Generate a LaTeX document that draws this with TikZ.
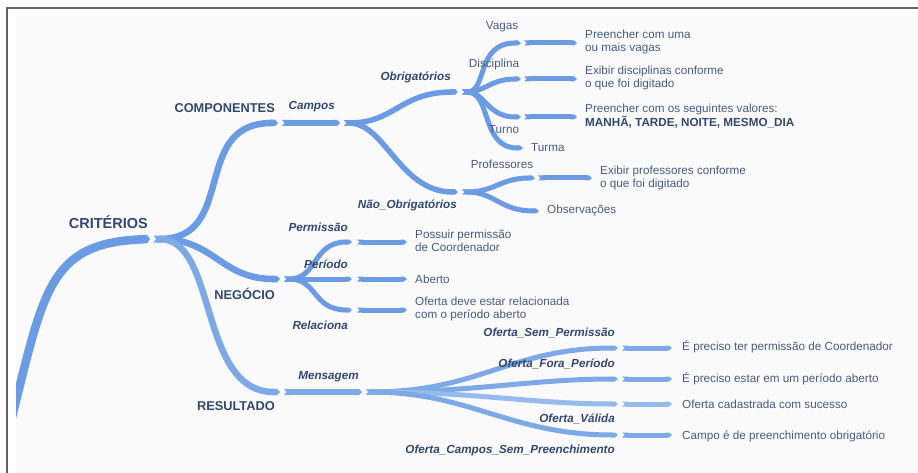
\documentclass[tikz,border=0pt]{standalone}
\usepackage{fontspec}
\setmainfont{Liberation Sans}
\usetikzlibrary{arrows.meta}
\definecolor{branch}{RGB}{107,156,227}
\definecolor{branchlt}{RGB}{125,169,231}
\definecolor{branchxl}{RGB}{152,187,237}
\definecolor{headc}{RGB}{50,72,110}
\definecolor{leafc}{RGB}{72,92,128}
\definecolor{framec}{RGB}{100,100,100}
\definecolor{paper}{RGB}{250,250,250}
\tikzset{
  seg/.style={draw=branch, line width=#1, line cap=butt,
    {Triangle Cap[reversed,length=2.5pt]}-{Triangle Cap[length=3pt]}},
  seg/.default=5pt,
  head/.style={font=\fontsize{12.8}{14}\selectfont\bfseries, text=headc, inner sep=0pt},
  sub/.style={font=\fontsize{11.7}{13}\selectfont\bfseries\itshape, text=headc, inner sep=0pt},
  plainlbl/.style={font=\fontsize{11.7}{13}\selectfont, text=leafc, inner sep=0pt},
  leaf/.style={font=\fontsize{11.7}{12.5}\selectfont, text=leafc, inner sep=0pt,
    align=left, anchor=west},
}
\begin{document}
\begin{tikzpicture}[x=1pt,y=-1pt]
\useasboundingbox (0,0) rectangle (918,473);
% sheet and frame
\fill[white] (0,0) rectangle (918,473);
\fill[paper] (16,16) rectangle (918,473);
\draw[framec, line width=2pt] (7,473) -- (7,8) -- (918,8);

% junction points
\coordinate (root) at (10,425);
\coordinate (crit) at (150,239);   \coordinate (critO) at (154,239);
\coordinate (comp) at (278,123);   \coordinate (compO) at (282,123);
\coordinate (camp) at (340,123);   \coordinate (campO) at (344,123);
\coordinate (obr) at (458,92);     \coordinate (obrO) at (462,92);
\coordinate (nobr) at (458,192);   \coordinate (nobrO) at (462,192);
\coordinate (vag) at (521,43);     \coordinate (vagO) at (524,43);   \coordinate (vagE) at (577,43);
\coordinate (dis) at (521,79);     \coordinate (disO) at (524,79);   \coordinate (disE) at (577,79);
\coordinate (tur) at (521,117);    \coordinate (turO) at (524,117);  \coordinate (turE) at (577,117);
\coordinate (tma) at (523,148);
\coordinate (pro) at (535,178);    \coordinate (proO) at (538,178);  \coordinate (proE) at (592,178);
\coordinate (obs) at (539,211);
\coordinate (neg) at (280,279);    \coordinate (negO) at (284,279);
\coordinate (per) at (352,242);    \coordinate (perO) at (357,242);  \coordinate (perE) at (407,242);
\coordinate (prd) at (352,279);    \coordinate (prdO) at (357,279);  \coordinate (prdE) at (407,279);
\coordinate (rel) at (352,310);    \coordinate (relO) at (357,310);  \coordinate (relE) at (407,310);
\coordinate (res) at (280,392);    \coordinate (resO) at (284,392);
\coordinate (msg) at (362,392);    \coordinate (msgO) at (366,392);
\coordinate (osp) at (618,348);    \coordinate (ospO) at (622,348);  \coordinate (ospE) at (672,348);
\coordinate (ofp) at (618,379);    \coordinate (ofpO) at (622,379);  \coordinate (ofpE) at (672,379);
\coordinate (ova) at (618,404);    \coordinate (ovaO) at (622,404);  \coordinate (ovaE) at (672,404);
\coordinate (ocs) at (618,435);    \coordinate (ocsO) at (622,435);  \coordinate (ocsE) at (672,435);

% trunk, entering from the lower left edge of the sheet
\begin{scope}
  \clip (16,16) rectangle (918,473);
  \draw[draw=branch, line width=8.5pt, line cap=butt, -{Triangle Cap[length=3pt]}]
    (root) .. controls (44,290) and (48,243) .. (crit);
\end{scope}

% first level
\draw[seg=6.5pt] (critO) .. controls (238,239) and (190,123) .. (comp);
\draw[seg=6.5pt] (critO) .. controls (215,239) and (220,279) .. (neg);
\draw[seg=6.5pt, draw=branchlt] (critO) .. controls (218,239) and (198,392) .. (res);

% COMPONENTES
\draw[seg=6pt] (compO) -- (camp);
\draw[seg=5.5pt] (campO) .. controls (395,123) and (400,92) .. (obr);
\draw[seg=5.5pt] (campO) .. controls (385,123) and (400,192) .. (nobr);
\draw[seg] (obrO) .. controls (488,92) and (475,43) .. (vag);
\draw[seg] (obrO) .. controls (485,92) and (490,79) .. (dis);
\draw[seg] (obrO) .. controls (485,92) and (487,117) .. (tur);
\draw[seg] (obrO) .. controls (492,92) and (480,148) .. (tma);
\draw[seg] (vagO) -- (vagE);
\draw[seg] (disO) -- (disE);
\draw[seg] (turO) -- (turE);
\draw[seg] (nobrO) .. controls (495,192) and (500,178) .. (pro);
\draw[seg] (nobrO) .. controls (495,192) and (500,211) .. (obs);
\draw[seg] (proO) -- (proE);

% NEGOCIO
\draw[seg] (negO) .. controls (318,279) and (312,242) .. (per);
\draw[seg] (negO) -- (prd);
\draw[seg] (negO) .. controls (318,279) and (312,310) .. (rel);
\draw[seg] (perO) -- (perE);
\draw[seg] (prdO) -- (prdE);
\draw[seg] (relO) -- (relE);

% RESULTADO
\draw[seg=6pt, draw=branchlt] (resO) -- (msg);
\draw[seg, draw=branchlt] (msgO) .. controls (480,392) and (510,348) .. (osp);
\draw[seg, draw=branchlt] (msgO) .. controls (480,392) and (530,379) .. (ofp);
\draw[seg, draw=branchxl] (msgO) .. controls (480,392) and (530,404) .. (ova);
\draw[seg, draw=branchlt] (msgO) .. controls (470,392) and (510,435) .. (ocs);
\draw[seg, draw=branchlt] (ospO) -- (ospE);
\draw[seg, draw=branchlt] (ofpO) -- (ofpE);
\draw[seg, draw=branchxl] (ovaO) -- (ovaE);
\draw[seg, draw=branchlt] (ocsO) -- (ocsE);

% branch labels
\node[head, anchor=east, font=\fontsize{14.5}{16}\selectfont\bfseries] (tCrit) at (148,222) {CRITÉRIOS};
\node[head, anchor=east] (tComp) at (275,108) {COMPONENTES};
\node[head, anchor=east] (tNeg) at (275,294) {NEGÓCIO};
\node[head, anchor=east] (tRes) at (275,406) {RESULTADO};
\node[sub, anchor=east] (tCamp) at (335,107) {Campos};
\node[sub, anchor=east] (tObr) at (451,77) {Obrigatórios};
\node[sub, anchor=east] (tNobr) at (457,205) {Não\_Obrigatórios};
\node[sub, anchor=east] (tPer) at (348,227) {Permissão};
\node[sub, anchor=east] (tPrd) at (348,264) {Período};
\node[sub, anchor=east] (tRel) at (348,325) {Relaciona};
\node[sub, anchor=east] (tMsg) at (359,377) {Mensagem};
\node[sub, anchor=east] (tOsp) at (615,333) {Oferta\_Sem\_Permissão};
\node[sub, anchor=east] (tOfp) at (615,364) {Oferta\_Fora\_Período};
\node[sub, anchor=east] (tOva) at (615,419) {Oferta\_Válida};
\node[sub, anchor=east] (tOcs) at (615,450) {Oferta\_Campos\_Sem\_Preenchimento};
\node[plainlbl] (tVag) at (502,27) {Vagas};
\node[plainlbl] (tDis) at (494,64) {Disciplina};
\node[plainlbl] (tTur) at (504,130) {Turno};
\node[plainlbl] (tPro) at (502,164) {Professores};
\node[plainlbl, anchor=west] (tTma) at (531,148) {Turma};
\node[plainlbl, anchor=west] (tObs) at (547,211) {Observações};

% leaf texts
\node[leaf] (lVag) at (585,42) {Preencher com uma\\ou mais vagas};
\node[leaf] (lDis) at (585,78) {Exibir disciplinas conforme\\o que foi digitado};
\node[leaf] (lTur) at (585,116) {Preencher com os seguintes valores:\\\textbf{\color{headc}MANHÃ, TARDE, NOITE, MESMO\_DIA}};
\node[leaf] (lPro) at (600,178) {Exibir professores conforme\\o que foi digitado};
\node[leaf] (lPer) at (415,241) {Possuir permissão\\de Coordenador};
\node[leaf] (lPrd) at (415,279) {Aberto};
\node[leaf] (lRel) at (415,309) {Oferta deve estar relacionada\\com o período aberto};
\node[leaf] (lOsp) at (682,347) {É preciso ter permissão de Coordenador};
\node[leaf] (lOfp) at (682,379) {É preciso estar em um período aberto};
\node[leaf] (lOva) at (682,404) {Oferta cadastrada com sucesso};
\node[leaf] (lOcs) at (682,436) {Campo é de preenchimento obrigatório};
\end{tikzpicture}
\end{document}
